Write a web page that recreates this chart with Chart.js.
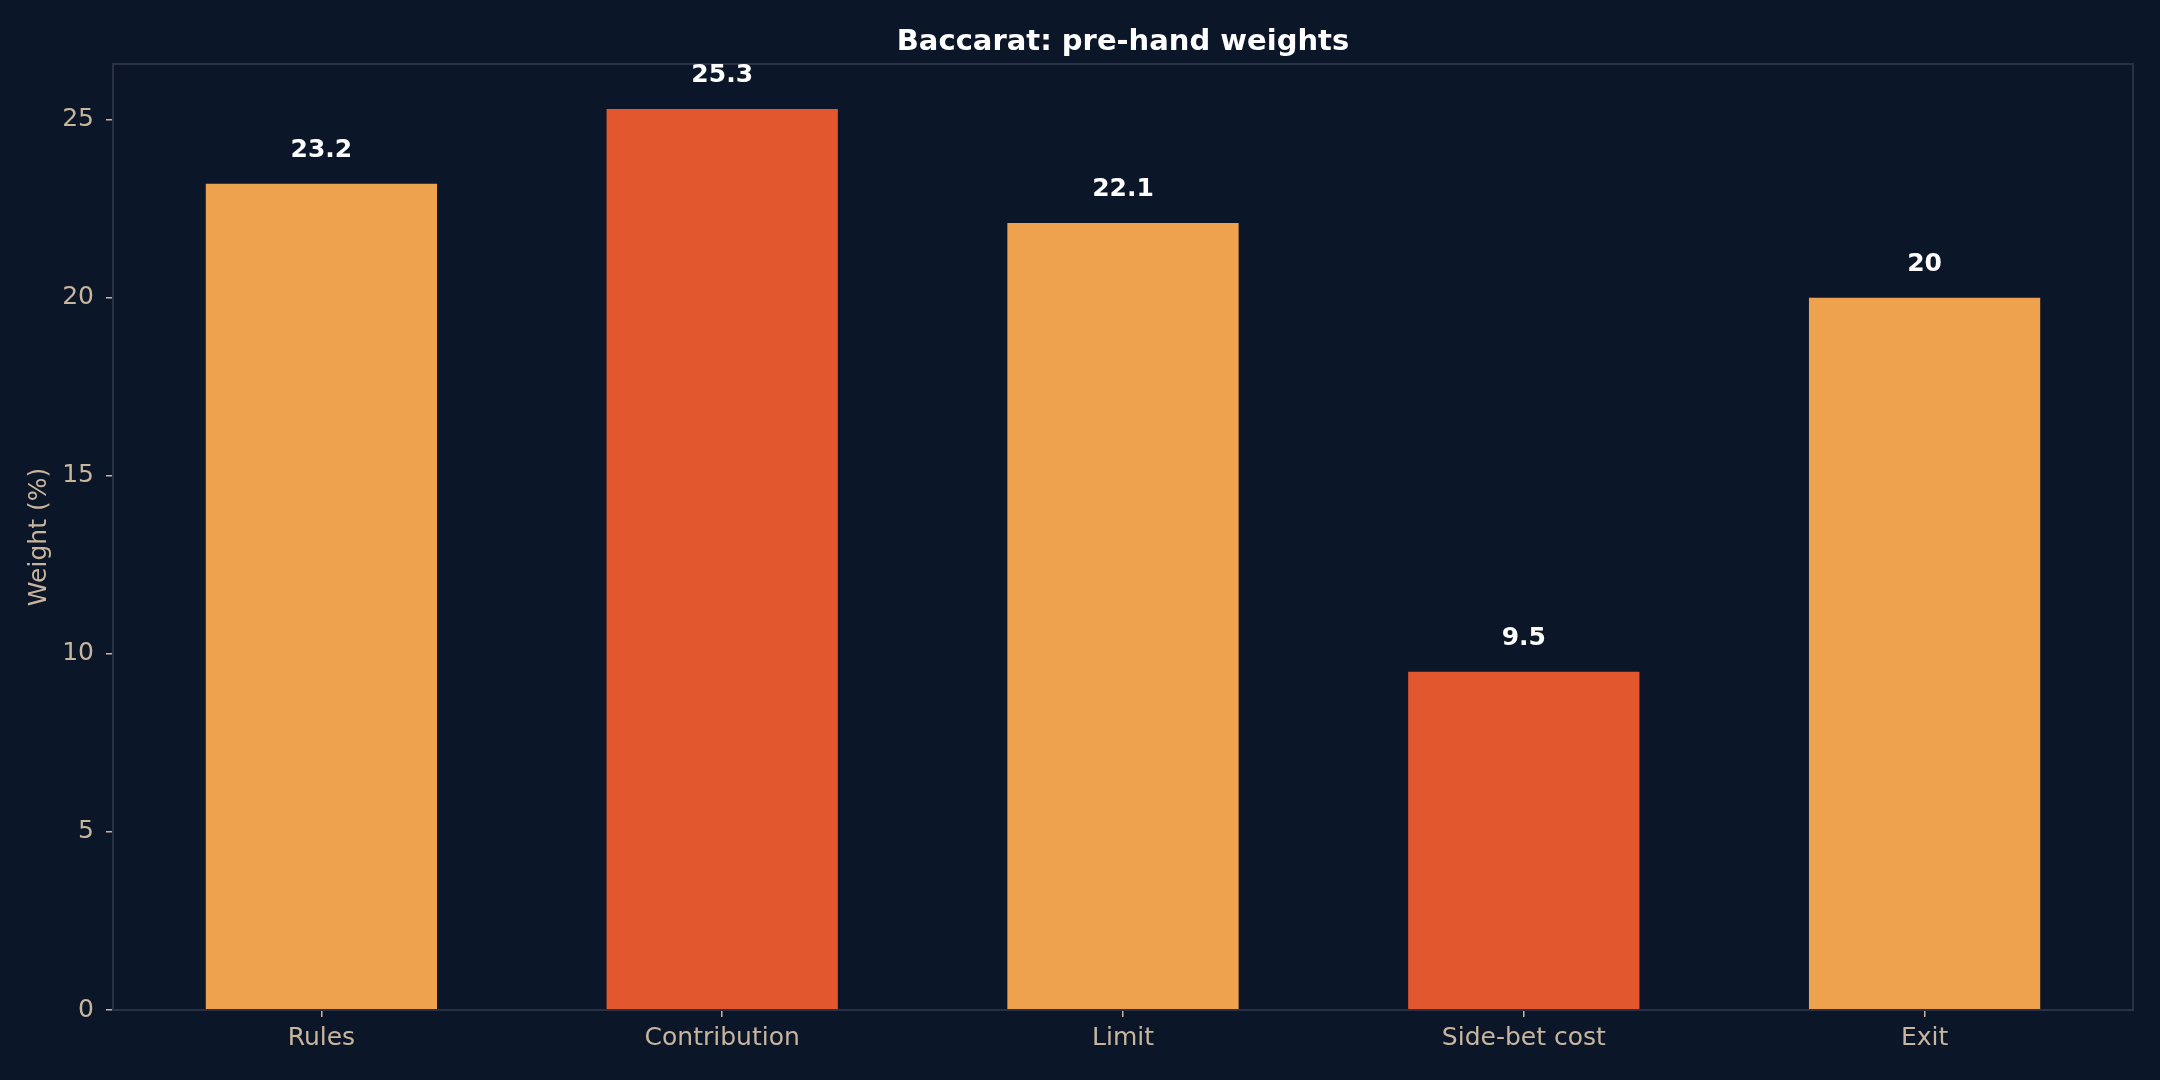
<!DOCTYPE html>
<html>
<head>
<meta charset="utf-8">
<script src="https://cdn.jsdelivr.net/npm/chart.js@4.4.0/dist/chart.umd.min.js"></script>
<style>
  html, body { margin: 0; padding: 0; background: #0b1628; }
  #chart { display: block; }
</style>
</head>
<body>
<canvas id="chart" width="2160" height="1080"></canvas>
<script>
const categories = ["Rules", "Contribution", "Limit", "Side-bet cost", "Exit"]
const weights = [23.2, 25.3, 22.1, 9.5, 20]
const barColors = ["#efa24e", "#e3572f", "#efa24e", "#e3572f", "#efa24e"]
const yTicks = [0, 5, 10, 15, 20, 25]
const chartTitle = "Baccarat: pre-hand weights"

const bg = "#0b1628"
const frameColor = "#2a3146"
const tickColor = "#c8b59e"
const fontFamily = "'DejaVu Sans', sans-serif"

const backgroundPlugin = {
  id: "background",
  beforeDraw(chart) {
    const ctx = chart.ctx
    ctx.save()
    ctx.fillStyle = bg
    ctx.fillRect(0, 0, chart.width, chart.height)
    ctx.restore()
  }
}

// frame, title centred over the plot area, and value labels above bars
const labelsPlugin = {
  id: "valueLabels",
  afterDatasetsDraw(chart) {
    const ctx = chart.ctx
    const area = chart.chartArea
    ctx.save()
    ctx.strokeStyle = frameColor
    ctx.lineWidth = 2
    ctx.strokeRect(area.left, area.top, area.right - area.left, area.bottom - area.top)

    ctx.fillStyle = "#ffffff"
    ctx.textAlign = "center"
    ctx.textBaseline = "middle"
    ctx.font = "bold 29px " + fontFamily
    ctx.fillText(chartTitle, (area.left + area.right) / 2, area.top - 22)

    ctx.font = "bold 25px " + fontFamily
    ctx.textBaseline = "alphabetic"
    const meta = chart.getDatasetMeta(0)
    meta.data.forEach((bar, i) => {
      ctx.fillText(String(weights[i]), bar.x, bar.y - 27)
    })
    ctx.restore()
  }
}

new Chart(document.getElementById("chart"), {
  type: "bar",
  data: {
    datasets: [{
      data: weights.map((w, i) => ({ x: i, y: w })),
      backgroundColor: barColors,
      borderWidth: 0,
      barPercentage: 0.577,
      categoryPercentage: 1.0
    }]
  },
  options: {
    responsive: false,
    devicePixelRatio: 1,
    animation: false,
    layout: { padding: { left: 0, right: 27, top: 64, bottom: 0 } },
    plugins: {
      legend: { display: false },
      tooltip: { enabled: false },
      title: { display: false }
    },
    scales: {
      x: {
        type: "linear",
        min: -0.52,
        max: 4.52,
        offset: false,
        grid: { offset: false, drawOnChartArea: false, drawTicks: true, tickLength: 7, color: tickColor, lineWidth: 1.5 },
        border: { display: false },
        ticks: {
          color: tickColor,
          font: { family: fontFamily, size: 25 },
          padding: 6,
          callback: v => categories[v]
        },
        afterBuildTicks(scale) {
          scale.ticks = categories.map((c, i) => ({ value: i }))
        },
        afterFit(scale) { scale.height = 70 }
      },
      y: {
        min: 0,
        max: 26.565,
        grid: { drawOnChartArea: false, drawTicks: true, tickLength: 7, color: tickColor, lineWidth: 1.5 },
        border: { display: false },
        ticks: { color: tickColor, font: { family: fontFamily, size: 25 }, padding: 12 },
        afterBuildTicks(scale) {
          scale.ticks = yTicks.map(v => ({ value: v }))
        },
        title: {
          display: true,
          text: "Weight (%)",
          color: tickColor,
          font: { family: fontFamily, size: 25 },
          padding: { top: 24, bottom: 0 }
        },
        afterFit(scale) { scale.width = 113 }
      }
    }
  },
  plugins: [backgroundPlugin, labelsPlugin]
})
</script>
</body>
</html>
